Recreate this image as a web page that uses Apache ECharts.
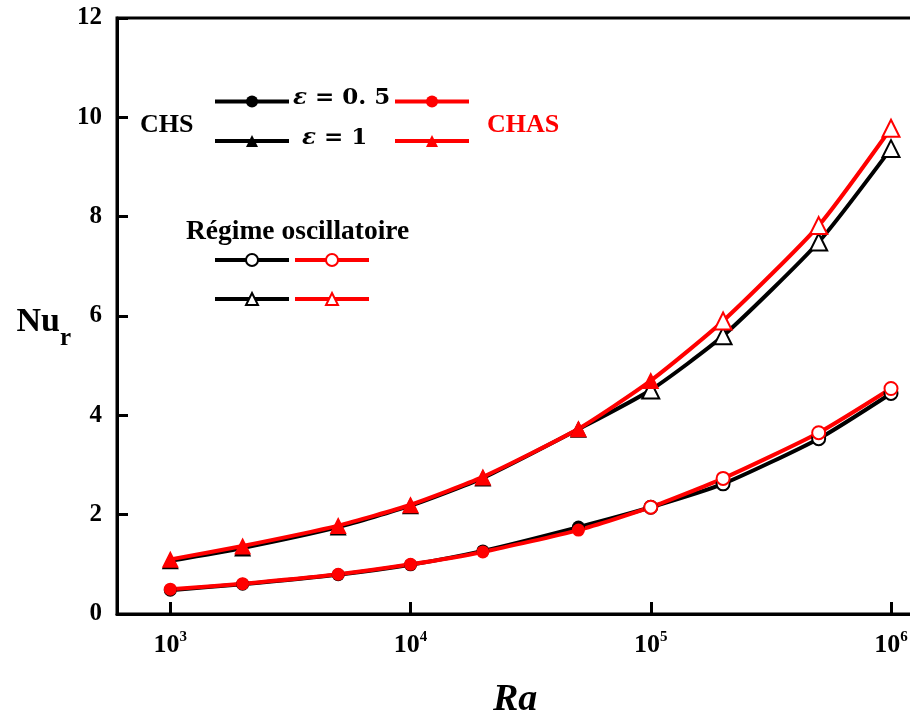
<!DOCTYPE html>
<html><head><meta charset="utf-8">
<script src="https://cdn.jsdelivr.net/npm/echarts@6/dist/echarts.min.js"></script>
<style>html,body{margin:0;padding:0;background:#fff}#c{width:910px;height:715px}</style>
</head><body><div id="c"></div>
<script>
// ---- data ----
const ra        = [1e3, 2e3, 5e3, 1e4, 2e4, 5e4, 1e5, 2e5, 5e5, 1e6];
const chsEps05  = [0.48, 0.60, 0.79, 0.99, 1.27, 1.75, 2.15, 2.62, 3.53, 4.44];
const chsEps1   = [1.07, 1.33, 1.75, 2.18, 2.74, 3.72, 4.51, 5.60, 7.49, 9.37];
const chasEps05 = [0.50, 0.61, 0.80, 1.00, 1.25, 1.69, 2.15, 2.73, 3.65, 4.54];
const chasEps1  = [1.10, 1.37, 1.78, 2.20, 2.76, 3.73, 4.70, 5.90, 7.82, 9.78];
// index of first point in the oscillatory regime (open markers)
const oscStartChs05 = 6, oscStartChs1 = 6, oscStartChas05 = 6, oscStartChas1 = 7;
const yMin = 0, yMax = 12, yStep = 2;
const seriesNames = ['CHS ε = 0.5', 'CHS ε = 1', 'CHAS ε = 0.5', 'CHAS ε = 1'];
const oscNames = ['Osc CHS ε = 0.5', 'Osc CHS ε = 1', 'Osc CHAS ε = 0.5', 'Osc CHAS ε = 1'];
const epsLabels = ['{e|ε} {t|= 0. 5}', '{e|ε} {t|= 1}'];

const SERIF = '"Liberation Serif", "Times New Roman", serif';
const MATH = '"DejaVu Serif", serif';
const RED = '#ff0000', BLACK = '#000000';

function mkSeries(name, vals, color, symbol, size, oscStart) {
  return {
    type: 'line', name, symbol, symbolSize: size, smooth: 0.2,
    lineStyle: { color, width: 4 },
    itemStyle: { color, borderColor: color, borderWidth: 0 },
    data: vals.map((v, i) => i >= oscStart
      ? { value: [ra[i], v], itemStyle: { color: '#fff', borderColor: color, borderWidth: 2 } }
      : [ra[i], v])
  };
}
function mkLegendSeries(name, color, symbol, size) {
  return {
    type: 'line', name, symbol, symbolSize: size, data: [],
    lineStyle: { color, width: 4 },
    itemStyle: { color: '#fff', borderColor: color, borderWidth: 2 }
  };
}

const chart = echarts.init(document.getElementById('c'), null, { renderer: 'canvas' });
const legendCommon = {
  orient: 'vertical', padding: 0, itemWidth: 74, itemHeight: 15,
  selectedMode: false, lineStyle: { width: 4 },
  formatter: () => '', textStyle: { lineHeight: 12, fontSize: 10 }
};
const epsRich = {
  e: { fontFamily: MATH, fontStyle: 'italic', fontWeight: 'bold', fontSize: 23, fill: BLACK },
  t: { fontFamily: MATH, fontWeight: 'bold', fontSize: 23, fill: BLACK }
};
chart.setOption({
  animation: false,
  backgroundColor: '#fff',
  grid: { left: 117, top: 18, bottom: 101, right: -23.3, show: true, borderColor: BLACK, borderWidth: 3,
          containLabel: false, outerBoundsMode: 'none' },
  xAxis: {
    type: 'log', logBase: 10, min: 600, max: 1.5e6,
    name: 'Ra', nameLocation: 'middle', nameGap: 67,
    nameTextStyle: { fontFamily: SERIF, fontStyle: 'italic', fontWeight: 'bold', fontSize: 38, color: BLACK,
                     verticalAlign: 'top', padding: [0, 20, 0, 0] },
    axisLine: { lineStyle: { color: BLACK, width: 3 } },
    axisTick: { inside: true, length: 12, lineStyle: { color: BLACK, width: 3 } },
    splitLine: { show: false }, minorTick: { show: false },
    axisLabel: {
      showMinLabel: false, showMaxLabel: false, margin: 16,
      formatter: v => {
        const l = Math.log10(v), e = Math.round(l);
        if (Math.abs(l - e) > 1e-6) return '';
        return '{b|10}{s|' + e + '}';
      },
      rich: {
        b: { fontFamily: SERIF, fontWeight: 'bold', fontSize: 26, color: BLACK, lineHeight: 28, verticalAlign: 'bottom' },
        s: { fontFamily: SERIF, fontWeight: 'bold', fontSize: 15, color: BLACK, lineHeight: 28, verticalAlign: 'top' }
      }
    }
  },
  yAxis: {
    type: 'value', min: yMin, max: yMax, interval: yStep,
    name: '{n|Nu}{r|r}', nameLocation: 'middle', nameGap: 46, nameRotate: 0,
    nameTextStyle: {
      padding: [24, 0, 0, 0],
      rich: {
        n: { fontFamily: SERIF, fontWeight: 'bold', fontSize: 34, color: BLACK, lineHeight: 34, verticalAlign: 'top' },
        r: { fontFamily: SERIF, fontWeight: 'bold', fontSize: 25, color: BLACK, lineHeight: 46, verticalAlign: 'bottom' }
      }
    },
    axisLine: { lineStyle: { color: BLACK, width: 3 } },
    axisTick: { inside: true, length: 11, lineStyle: { color: BLACK, width: 3 } },
    splitLine: { show: false },
    axisLabel: { margin: 15, fontFamily: SERIF, fontWeight: 'bold', fontSize: 25, color: BLACK }
  },
  legend: [
    Object.assign({}, legendCommon, { left: 213, top: 95.5, itemGap: 27.5, data: [seriesNames[0], seriesNames[1]] }),
    Object.assign({}, legendCommon, { left: 393, top: 95.5, itemGap: 27.5, data: [seriesNames[2], seriesNames[3]] }),
    Object.assign({}, legendCommon, {
      left: 213, top: 253, itemGap: 25,
      data: [
        { name: oscNames[0], itemStyle: { color: '#fff', borderColor: BLACK, borderWidth: 2 } },
        { name: oscNames[1], itemStyle: { color: '#fff', borderColor: BLACK, borderWidth: 2 } }
      ]
    }),
    Object.assign({}, legendCommon, {
      left: 293, top: 253, itemGap: 25,
      data: [
        { name: oscNames[2], itemStyle: { color: '#fff', borderColor: RED, borderWidth: 2 } },
        { name: oscNames[3], itemStyle: { color: '#fff', borderColor: RED, borderWidth: 2 } }
      ]
    })
  ],
  graphic: [
    { type: 'text', left: 293, top: 87, style: { text: epsLabels[0], rich: epsRich, font: 'bold 23px ' + MATH, fill: BLACK } },
    { type: 'text', left: 302, top: 127, style: { text: epsLabels[1], rich: epsRich, font: 'bold 23px ' + MATH, fill: BLACK } },
    { type: 'text', left: 140, top: 112, style: { text: 'CHS', font: 'bold 26px ' + SERIF, fill: BLACK } },
    { type: 'text', left: 487, top: 112, style: { text: 'CHAS', font: 'bold 26px ' + SERIF, fill: RED } },
    { type: 'text', left: 186, top: 218, style: { text: 'Régime oscillatoire', font: 'bold 27.5px ' + SERIF, fill: BLACK } }
  ],
  series: [
    mkSeries(seriesNames[0], chsEps05, BLACK, 'circle', 13, oscStartChs05),
    mkSeries(seriesNames[1], chsEps1, BLACK, 'triangle', 17, oscStartChs1),
    mkSeries(seriesNames[2], chasEps05, RED, 'circle', 13, oscStartChas05),
    mkSeries(seriesNames[3], chasEps1, RED, 'triangle', 17, oscStartChas1),
    mkLegendSeries(oscNames[0], BLACK, 'circle', 13),
    mkLegendSeries(oscNames[1], BLACK, 'triangle', 17),
    mkLegendSeries(oscNames[2], RED, 'circle', 13),
    mkLegendSeries(oscNames[3], RED, 'triangle', 17)
  ]
});
</script></body></html>
